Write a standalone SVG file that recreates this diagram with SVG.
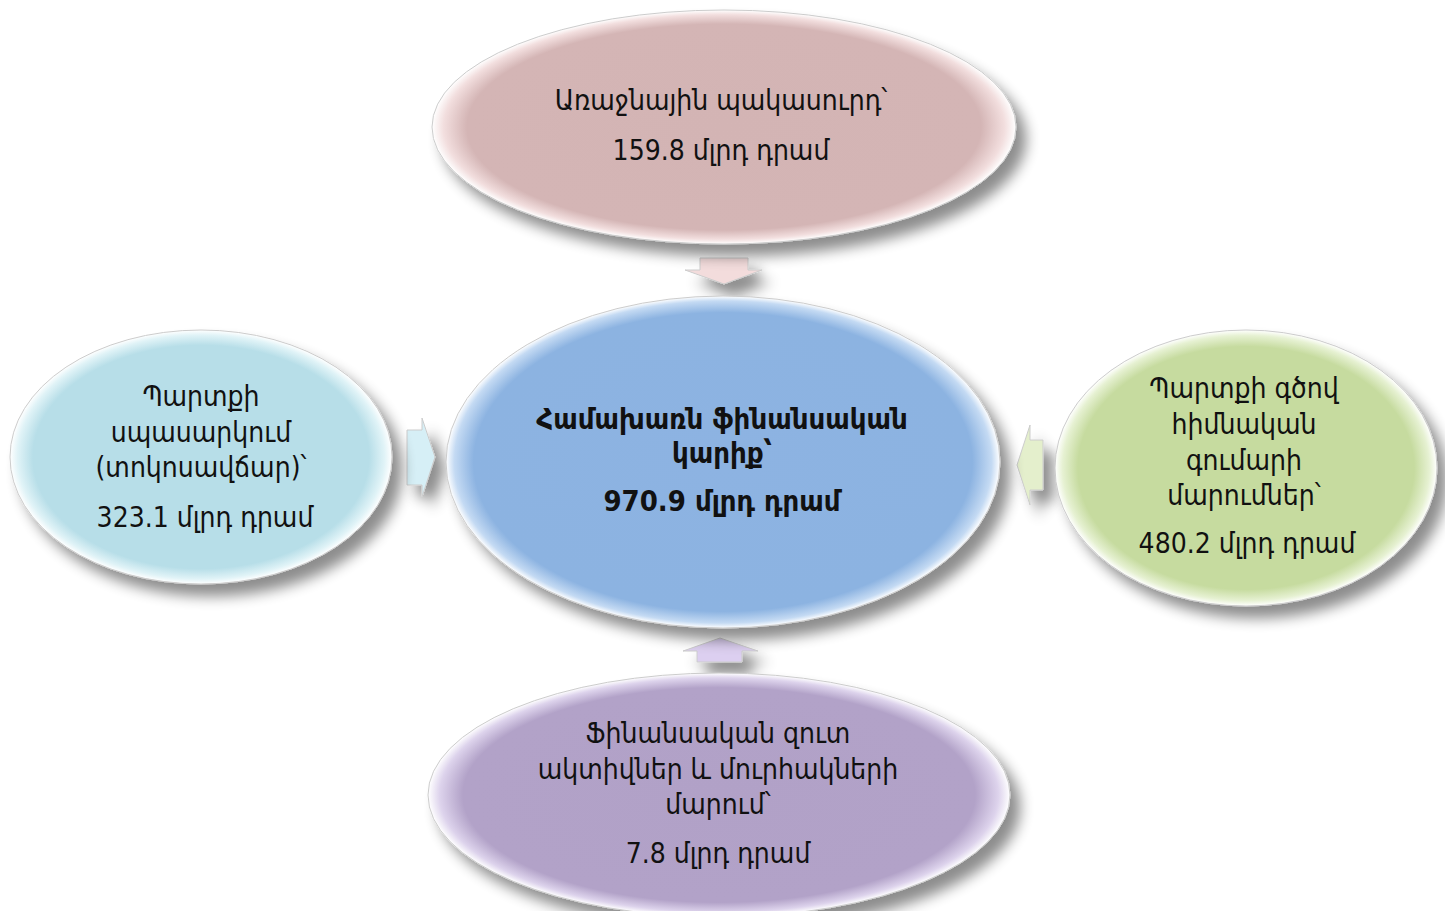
<svg xmlns="http://www.w3.org/2000/svg" width="1445" height="911" viewBox="0 0 1445 911">
<defs>
<style>
text{font-family:"DejaVu Sans","Noto Sans",sans-serif;font-stretch:condensed;font-size:28px;fill:#111;text-anchor:middle}
.b{font-weight:bold;font-size:29px}
.ell{filter:url(#sh)}
</style>
<filter id="sh" x="-20%" y="-20%" width="150%" height="150%">
<feGaussianBlur in="SourceAlpha" stdDeviation="7"/>
<feOffset dx="10" dy="12" result="o"/>
<feComponentTransfer><feFuncA type="linear" slope="0.45"/></feComponentTransfer>
<feMerge><feMergeNode/><feMergeNode in="SourceGraphic"/></feMerge>
</filter>
<radialGradient id="gTop"><stop offset="0" stop-color="#d3b4b4"/><stop offset="0.88" stop-color="#d4b5b5"/><stop offset="0.96" stop-color="#f2dede"/><stop offset="1" stop-color="#ffffff"/></radialGradient>
<radialGradient id="gMid"><stop offset="0" stop-color="#8db3e2"/><stop offset="0.9" stop-color="#8cb3e1"/><stop offset="0.97" stop-color="#c4daf3"/><stop offset="1" stop-color="#ffffff"/></radialGradient>
<radialGradient id="gLeft"><stop offset="0" stop-color="#b7dee8"/><stop offset="0.88" stop-color="#b7dee8"/><stop offset="0.96" stop-color="#e0f3f7"/><stop offset="1" stop-color="#ffffff"/></radialGradient>
<radialGradient id="gRight"><stop offset="0" stop-color="#c6db9f"/><stop offset="0.88" stop-color="#c6db9f"/><stop offset="0.96" stop-color="#e6f1d2"/><stop offset="1" stop-color="#ffffff"/></radialGradient>
<radialGradient id="gBot"><stop offset="0" stop-color="#b1a1c7"/><stop offset="0.88" stop-color="#b2a2c8"/><stop offset="0.96" stop-color="#ddd3ec"/><stop offset="1" stop-color="#ffffff"/></radialGradient>
</defs>
<rect width="1445" height="911" fill="#fff"/>
<g id="connectors" filter="url(#sh)">
<path d="M700,258 H748 V270 H762 L724,284 L685,270 H700 Z" fill="#f3dcdc" stroke="#ccc" stroke-width="1"/>
<path d="M407,430 H422 V418 L435,457 L422,497 V485 H407 Z" fill="#d6eff6" stroke="#ccc" stroke-width="1"/>
<path d="M1043,440 H1030 V425 L1017,465 L1030,505 V490 H1043 Z" fill="#e4efcc" stroke="#ccc" stroke-width="1"/>
<path d="M697,662 H742 V651 H758 L720,638 L683,651 H697 Z" fill="#dccff0" stroke="#ccc" stroke-width="1"/>
</g>
<g id="top">
<ellipse class="ell" cx="724" cy="127" rx="292" ry="117" fill="url(#gTop)" stroke="#ccc" stroke-width="1"/>
<text x="721" y="110">Առաջնային պակասուրդ՝</text>
<text x="721" y="160">159.8 մլրդ դրամ</text>
</g>
<g id="center">
<ellipse class="ell" cx="723" cy="462" rx="277" ry="166" fill="url(#gMid)" stroke="#ccc" stroke-width="1"/>
<text class="b" x="722" y="429">Համախառն ֆինանսական</text>
<text class="b" x="722" y="463">կարիք՝</text>
<text class="b" x="722" y="511">970.9 մլրդ դրամ</text>
</g>
<g id="left">
<ellipse class="ell" cx="201" cy="457" rx="191" ry="127" fill="url(#gLeft)" stroke="#ccc" stroke-width="1"/>
<text x="201" y="406">Պարտքի</text>
<text x="201" y="442">սպասարկում</text>
<text x="201" y="477">(տոկոսավճար)՝</text>
<text x="205" y="527">323.1 մլրդ դրամ</text>
</g>
<g id="right">
<ellipse class="ell" cx="1246" cy="468" rx="191" ry="138" fill="url(#gRight)" stroke="#ccc" stroke-width="1"/>
<text x="1244" y="398">Պարտքի գծով</text>
<text x="1244" y="434">հիմնական</text>
<text x="1244" y="470">գումարի</text>
<text x="1244" y="505">մարումներ՝</text>
<text x="1247" y="553">480.2 մլրդ դրամ</text>
</g>
<g id="bottom">
<ellipse class="ell" cx="719" cy="795" rx="291" ry="122" fill="url(#gBot)" stroke="#ccc" stroke-width="1"/>
<text x="718" y="743">Ֆինանսական զուտ</text>
<text x="718" y="779">ակտիվներ և մուրհակների</text>
<text x="718" y="814">մարում՝</text>
<text x="718" y="863">7.8 մլրդ դրամ</text>
</g>
</svg>
